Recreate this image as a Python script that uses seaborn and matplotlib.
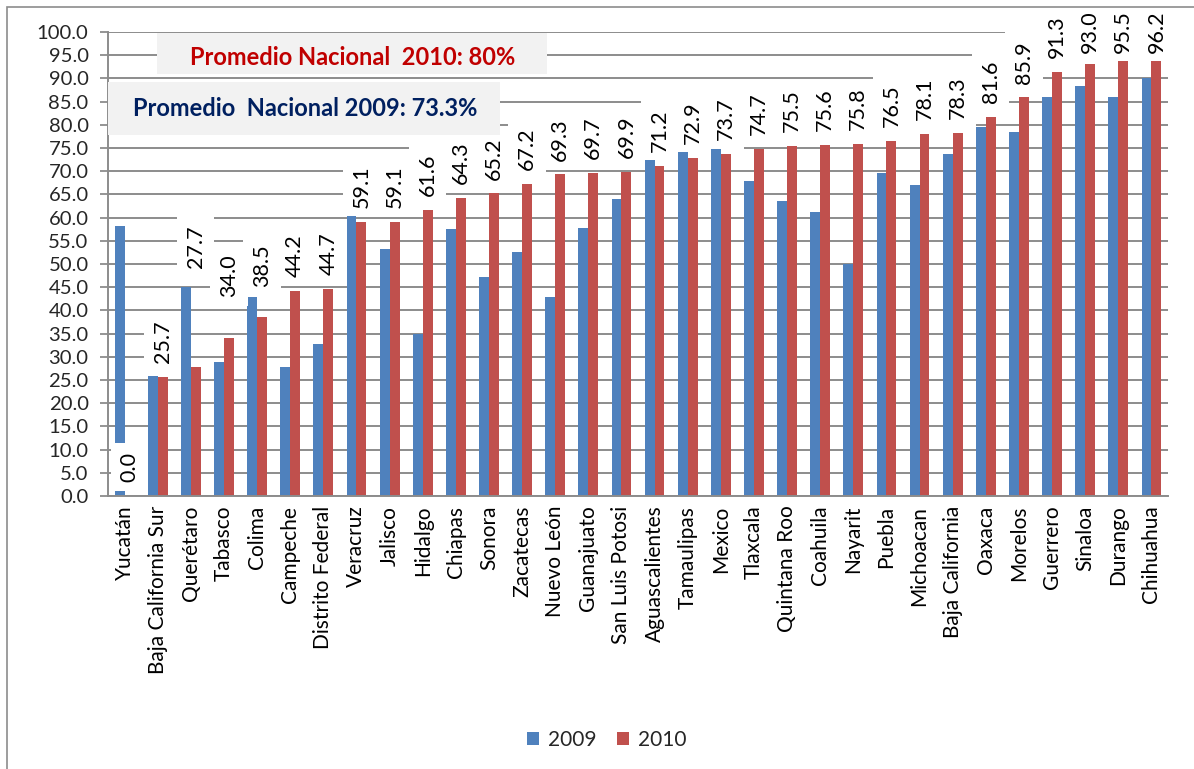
import numpy as np
import pandas as pd
import matplotlib
matplotlib.use("Agg")
import matplotlib.pyplot as plt
import seaborn as sns
from matplotlib.patches import Rectangle

estados = ["Yucatán", "Baja California Sur", "Querétaro", "Tabasco", "Colima",
           "Campeche", "Distrito Federal", "Veracruz", "Jalisco", "Hidalgo",
           "Chiapas", "Sonora", "Zacatecas", "Nuevo León", "Guanajuato",
           "San Luis Potosi", "Aguascalientes", "Tamaulipas", "Mexico", "Tlaxcala",
           "Quintana Roo", "Coahuila", "Nayarit", "Puebla", "Michoacan",
           "Baja California", "Oaxaca", "Morelos", "Guerrero", "Sinaloa",
           "Durango", "Chihuahua"]
valores_2009 = [58.2, 25.9, 45.0, 28.9, 42.9, 27.8, 32.7, 60.4, 53.2, 34.9,
                57.5, 47.1, 52.5, 42.9, 57.8, 64.0, 72.4, 74.2, 75.3, 67.8,
                63.5, 61.2, 50.1, 69.6, 67.0, 73.8, 79.5, 78.4, 86.0, 88.3,
                86.0, 90.1]
valores_2010 = [0.0, 25.7, 27.7, 34.0, 38.5, 44.2, 44.7, 59.1, 59.1, 61.6,
                64.3, 65.2, 67.2, 69.3, 69.7, 69.9, 71.2, 72.9, 73.7, 74.7,
                75.5, 75.6, 75.8, 76.5, 78.1, 78.3, 81.6, 85.9, 91.3, 93.0,
                95.5, 96.2]
anios = ["2009", "2010"]
etiquetas_2010 = [f"{v:.1f}" for v in valores_2010]
texto_prom_2010 = "Promedio Nacional  2010: 80%"
texto_prom_2009 = "Promedio  Nacional 2009: 73.3%"
y_ticks = np.arange(0, 101, 5)

# manually displaced data labels (layout, in axis units)
ajuste_etiquetas = {"Querétaro": 49.2, "Tabasco": 42.9, "Colima": 45.0}

sns.set_theme(style="white")
plt.rcParams['font.family'] = ['Lato', 'DejaVu Sans']

GRIS = "#8c8c8c"
AZUL = "#4f81bd"
ROJO = "#c0504d"
FS = 15

df = pd.DataFrame({
    "Estado": estados * 2,
    "Valor": valores_2009 + valores_2010,
    "Año": [anios[0]] * len(estados) + [anios[1]] * len(estados),
})

W, H = 1194, 769
fig = plt.figure(figsize=(W / 100, H / 100), dpi=100)
ax = fig.add_axes([108 / W, 1 - 496 / H, 1060 / W, 464 / H])

sns.barplot(data=df, x="Estado", y="Valor", hue="Año", palette=[AZUL, ROJO],
            width=0.6, gap=0, saturation=1, errorbar=None, linewidth=0, ax=ax,
            zorder=2)

ax.set_xlim(-0.5, len(estados) - 0.5)
ax.set_ylim(0, 100)
ax.set_yticks(y_ticks)
ax.set_yticklabels([f"{t:.1f}" for t in y_ticks], fontsize=14.6)
ax.set_xticks(range(len(estados)))
ax.set_xticklabels(estados, rotation=90, fontsize=FS)
ax.set_xticks(np.arange(-0.5, len(estados), 1), minor=True)
ax.set_xlabel("")
ax.set_ylabel("")

ax.tick_params(axis="x", which="major", length=0, pad=7, colors="black")
ax.tick_params(axis="x", which="minor", length=6, width=1.3, color=GRIS, direction="out")
ax.tick_params(axis="y", length=6, width=1.3, color=GRIS, pad=8, direction="out", left=True)

ax.set_axisbelow(True)
ax.yaxis.grid(True, color=GRIS, linewidth=1.4)
ax.xaxis.grid(False)
for s in ["top", "right"]:
    ax.spines[s].set_visible(False)
for s in ["left", "bottom"]:
    ax.spines[s].set_color(GRIS)
    ax.spines[s].set_linewidth(1.4)

# data labels for 2010
for i, (est, v, lab) in enumerate(zip(estados, valores_2010, etiquetas_2010)):
    y = min(v + 3.0, 95.5)
    y = ajuste_etiquetas.get(est, y)
    ax.text(i + 0.15, y, lab, rotation=90, ha="center", va="bottom", fontsize=15.5,
            color="black", zorder=6,
            bbox=dict(boxstyle="square,pad=0.4", fc="white", ec="none"))

# national average boxes
ax.add_patch(Rectangle((0.046, 0.909), 0.368, 0.089, transform=ax.transAxes,
                       fc="#f2f2f2", ec="none", zorder=7, clip_on=False))
ax.text(0.231, 0.945, texto_prom_2010, transform=ax.transAxes, ha="center", va="center",
        fontsize=17, fontweight="bold", color="#c00000", zorder=8)
ax.add_patch(Rectangle((0.0, 0.778), 0.370, 0.114, transform=ax.transAxes,
                       fc="#f2f2f2", ec="none", zorder=7, clip_on=False))
ax.text(0.186, 0.836, texto_prom_2009, transform=ax.transAxes, ha="center", va="center",
        fontsize=17, fontweight="bold", color="#002060", zorder=8)

# legend
sns.move_legend(ax, "center", bbox_to_anchor=(0.508, 1 - 740 / H),
                bbox_transform=fig.transFigure, ncol=2, frameon=False, title=None,
                handlelength=0.6, handleheight=0.6, columnspacing=1.0,
                handletextpad=0.4, fontsize=FS)

# outer chart border
fig.add_artist(Rectangle((7 / W, -0.05), 1.1, 1 - 7 / H + 0.05, transform=fig.transFigure,
                         fill=False, ec=GRIS, lw=1.2))

fig.savefig("out.png", dpi=100)
